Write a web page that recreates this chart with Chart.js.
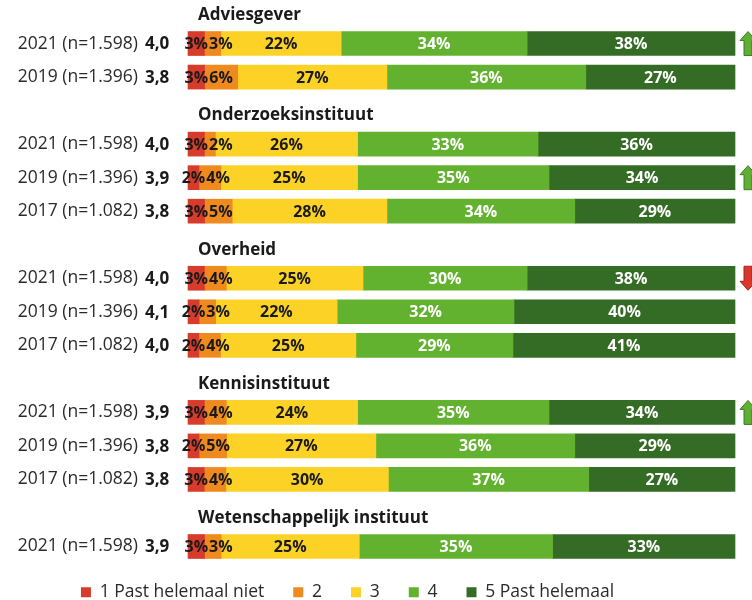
<!DOCTYPE html>
<html lang="nl">
<head>
    <meta charset="UTF-8">
    <title>Past helemaal / past helemaal niet</title>
    <script src="https://cdn.jsdelivr.net/npm/chart.js"></script>
    <style>
        html, body { margin: 0; padding: 0; background: #fff; }
        #wrap { width: 752px; height: 600px; }
    </style>
</head>
<body>
<div id="wrap"><canvas id="chart"></canvas></div>
<script>
    // rows: group headings have no values
    const rowLabels = [
        'Adviesgever', '2021 (n=1.598)', '2019 (n=1.396)',
        'Onderzoeksinstituut', '2021 (n=1.598)', '2019 (n=1.396)', '2017 (n=1.082)',
        'Overheid', '2021 (n=1.598)', '2019 (n=1.396)', '2017 (n=1.082)',
        'Kennisinstituut', '2021 (n=1.598)', '2019 (n=1.396)', '2017 (n=1.082)',
        'Wetenschappelijk instituut', '2021 (n=1.598)'
    ];
    const isHeader = [1,0,0, 1,0,0,0, 1,0,0,0, 1,0,0,0, 1,0];
    const means = [null,'4,0','3,8', null,'4,0','3,9','3,8', null,'4,0','4,1','4,0', null,'3,9','3,8','3,8', null,'3,9'];
    const trend = [null,'up',null, null,null,'up',null, null,'down',null,null, null,'up',null,null, null,null];

    const score1 = [null,3,3, null,3,2,3, null,3,2,2, null,3,2,3, null,3];
    const score2 = [null,3,6, null,2,4,5, null,4,3,4, null,4,5,4, null,3];
    const score3 = [null,22,27, null,26,25,28, null,25,22,25, null,24,27,30, null,25];
    const score4 = [null,34,36, null,33,35,34, null,30,32,29, null,35,36,37, null,35];
    const score5 = [null,38,27, null,36,34,29, null,38,40,41, null,34,29,27, null,33];

    const seriesNames = ['1 Past helemaal niet', '2', '3', '4', '5 Past helemaal'];
    const seriesColors = ['#d63b2b', '#ef8a1f', '#fcd226', '#63b22f', '#356c25'];
    const labelColors = ['#1a1a1a', '#1a1a1a', '#1a1a1a', '#ffffff', '#ffffff'];
    const allScores = [score1, score2, score3, score4, score5];

    // bars are scaled to a full 100% width (rounded answers do not always add up)
    const totals = rowLabels.map((_, i) => isHeader[i] ? null : allScores.reduce((s, a) => s + a[i], 0));

    const FONT = '"Open Sans", "Noto Sans", sans-serif';

    const decor = {
        id: 'decor',
        afterDatasetsDraw(chart) {
            const ctx = chart.ctx;
            const yScale = chart.scales.y;
            const area = chart.chartArea;
            ctx.save();
            ctx.textBaseline = 'middle';

            // percentages inside the bars, pushed right when small ones would collide
            ctx.font = 'bold 16px ' + FONT;
            ctx.textAlign = 'left';
            const lastRight = {};
            chart.data.datasets.forEach((ds, di) => {
                const meta = chart.getDatasetMeta(di);
                meta.data.forEach((bar, i) => {
                    const v = allScores[di][i];
                    if (v == null) return;
                    const txt = v + '%';
                    const w = ctx.measureText(txt).width;
                    let x = (bar.x + bar.base) / 2 - w / 2;
                    if (lastRight[i] != null && x < lastRight[i] + 1) x = lastRight[i] + 1;
                    lastRight[i] = x + w;
                    ctx.fillStyle = labelColors[di];
                    ctx.fillText(txt, x, bar.y + 1);
                });
            });

            rowLabels.forEach((lab, i) => {
                const y = yScale.getPixelForValue(i);
                ctx.fillStyle = '#1a1a1a';
                ctx.textAlign = 'left';
                ctx.font = 'bold 17px ' + FONT;
                if (isHeader[i]) {
                    ctx.fillText(lab, area.left + 10, y + 5);
                    return;
                }
                ctx.fillText(means[i], area.left - 43, y + 1);

                if (trend[i]) {
                    const cx = area.right + 13;
                    const up = trend[i] === 'up';
                    const d = up ? 1 : -1;
                    ctx.beginPath();
                    ctx.moveTo(cx, y - 12 * d);
                    ctx.lineTo(cx + 8, y - 3 * d);
                    ctx.lineTo(cx + 4, y - 3 * d);
                    ctx.lineTo(cx + 4, y + 12 * d);
                    ctx.lineTo(cx - 4, y + 12 * d);
                    ctx.lineTo(cx - 4, y - 3 * d);
                    ctx.lineTo(cx - 8, y - 3 * d);
                    ctx.closePath();
                    ctx.fillStyle = up ? '#5fae35' : '#d9372b';
                    ctx.fill();
                    ctx.strokeStyle = up ? '#3d7d22' : '#a82317';
                    ctx.lineWidth = 1;
                    ctx.stroke();
                }
            });
            ctx.restore();
        }
    };

    const datasets = allScores.map((arr, di) => ({
        label: seriesNames[di],
        data: arr.map((v, i) => v == null ? null : v / totals[i] * 100),
        backgroundColor: seriesColors[di],
        borderWidth: 0,
        barThickness: 24,
        clip: false
    }));

    new Chart(document.getElementById('chart'), {
        type: 'bar',
        data: { labels: rowLabels, datasets: datasets },
        options: {
            indexAxis: 'y',
            responsive: true,
            maintainAspectRatio: false,
            animation: false,
            layout: { padding: { left: -40, right: 17, top: 10, bottom: -11 } },
            scales: {
                x: {
                    stacked: true,
                    min: 0,
                    max: 100,
                    display: false
                },
                y: {
                    stacked: true,
                    offset: false,
                    grid: { display: false },
                    border: { display: false },
                    afterFit(scale) {
                        scale.width = 228;
                        scale.paddingTop = 0;
                        scale.paddingBottom = 0;
                    },
                    ticks: {
                        padding: 42,
                        color: '#2a2a2a',
                        font: { family: FONT, size: 17.5 },
                        autoSkip: false,
                        callback: function (value, index) {
                            return isHeader[index] ? '' : rowLabels[index];
                        }
                    }
                }
            },
            plugins: {
                tooltip: { enabled: false },
                legend: {
                    position: 'bottom',
                    title: { display: true, text: '', padding: 1, font: { size: 5 } },
                    labels: {
                        boxWidth: 10,
                        boxHeight: 10,
                        padding: 29,
                        color: '#2a2a2a',
                        font: { family: FONT, size: 17.5 }
                    }
                }
            }
        },
        plugins: [decor]
    });
</script>
</body>
</html>
